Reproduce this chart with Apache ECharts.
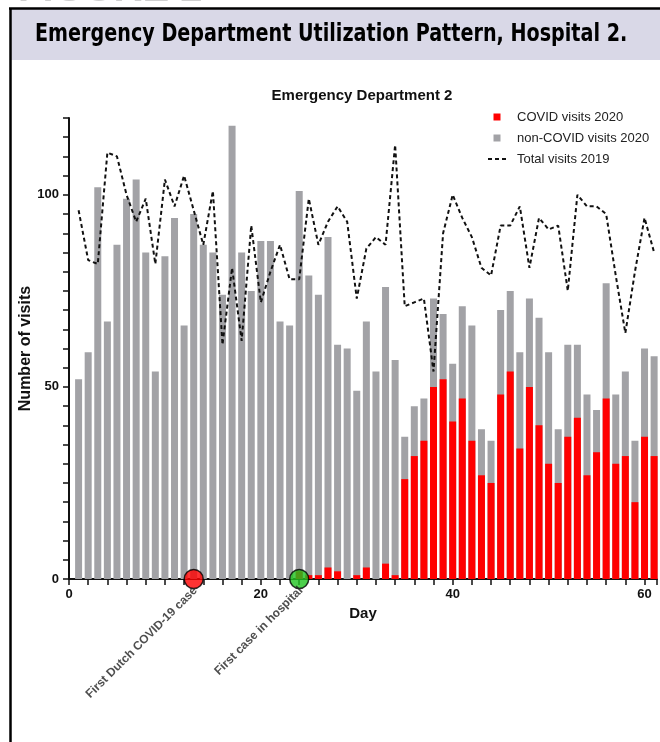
<!DOCTYPE html>
<html><head><meta charset="utf-8">
<script src="https://cdn.jsdelivr.net/npm/echarts@6/dist/echarts.min.js"></script>
<style>html,body{margin:0;padding:0;background:#fff}#c{width:660px;height:742px}</style>
</head><body><div id="c"></div>
<script>
// ---- data ----
const days = [1,2,3,4,5,6,7,8,9,10,11,12,13,14,15,16,17,18,19,20,21,22,23,24,25,26,27,28,29,30,31,32,33,34,35,36,37,38,39,40,41,42,43,44,45,46,47,48,49,50,51,52,53,54,55,56,57,58,59,60,61];
// COVID visits 2020 (red, bottom part of each bar)
const covid2020 = [0,0,0,0,0,0,0,0,0,0,0,0,0,0,0,0,0,0,0,0,0,0,0,2,1,1,3,2,0,1,3,0,4,1,26,32,36,50,52,41,47,36,27,25,48,54,34,50,40,30,25,37,42,27,33,47,30,32,20,37,32];
// top of each 2020 bar (COVID + non-COVID visits)
const allVisits2020 = [52,59,102,67,87,99,104,85,54,84,94,66,95,87,85,74,118,85,75,88,88,67,66,101,79,74,89,61,60,49,67,54,76,57,37,45,47,73,69,56,71,66,39,36,70,75,59,73,68,59,39,61,61,48,44,77,48,54,36,60,58];
const total2019 = [96,83,82,111,110,100,93,99,82,104,97,105,96,87,101,61,81,62,92,72,80,87,78,78,99,87,93,97,93,73,86,89,87,113,71,72,73,54,90,100,94,89,81,79,92,92,97,81,94,91,92,75,100,97,97,95,79,64,80,94,85];
const xTickLabels = [0,20,40,60];
const yTickLabels = [0,50,100];
const seriesNames = ['COVID visits 2020','non-COVID visits 2020','Total visits 2019'];
const eventDays = [13,24];
const eventLabels = ['First Dutch COVID-19 case','First case in hospital'];
const eventColors = ['#ff0000','#1fc31f'];

const FONT = '"Liberation Sans", Arial, sans-serif';
const chart = echarts.init(document.getElementById('c'), null, {renderer:'canvas'});

const pair = arr => arr.map((v,i)=>[days[i], v]);

chart.setOption({
  animation:false,
  backgroundColor:'#ffffff',
  graphic:[
    {type:'text', left:18, top:-30, style:{text:'FIGURE 2', font:'bold 40px "Liberation Sans", Arial', fill:'#cfcfcf'}, z:0},
    {type:'rect', shape:{x:11, y:9, width:660, height:51}, style:{fill:'#d9d8e7'}, z:0},
    {type:'line', shape:{x1:9, y1:8.5, x2:660, y2:8.5}, style:{stroke:'#000', lineWidth:2.5}, z:1},
    {type:'line', shape:{x1:10.5, y1:8, x2:10.5, y2:742}, style:{stroke:'#000', lineWidth:2.5}, z:1},
    {type:'text', x:35, y:34, scaleX:0.852, style:{text:'Emergency Department Utilization Pattern, Hospital 2.', font:'bold 25px "Liberation Sans Narrow", "DejaVu Sans Condensed", sans-serif', fill:'#000', textVerticalAlign:'middle'}, z:2}
  ],
  title:{
    text:'Emergency Department 2', left:357, top:83, textAlign:'center',
    textStyle:{fontFamily:FONT, fontWeight:'bold', fontSize:15, color:'#111'}
  },
  legend:{
    orient:'vertical', left:482, top:105, itemWidth:18, itemHeight:7, itemGap:7,
    textStyle:{fontFamily:FONT, fontSize:13, color:'#222', padding:[0,0,0,6], lineHeight:14},
    data:[
      {name:seriesNames[0], icon:'path://M0,0L1,0L1,1L0,1Z'},
      {name:seriesNames[1], icon:'path://M0,0L1,0L1,1L0,1Z'},
      {name:seriesNames[2], itemStyle:{opacity:0}}
    ]
  },
  grid:{left:69, top:118, width:590, height:461},
  xAxis:{
    type:'value', min:0, max:61.3, interval:2,
    name:'Day', nameLocation:'middle', nameGap:27,
    nameTextStyle:{fontFamily:FONT, fontWeight:'bold', fontSize:15, color:'#111'},
    axisLine:{show:true, lineStyle:{color:'#111', width:2}},
    axisTick:{show:true, length:6, lineStyle:{color:'#111', width:1.5}},
    axisLabel:{margin:9, fontFamily:FONT, fontWeight:'bold', fontSize:13, color:'#111',
      formatter:v => xTickLabels.indexOf(v) >= 0 ? String(v) : ''},
    splitLine:{show:false}
  },
  yAxis:{
    type:'value', min:0, max:120, interval:5,
    name:'Number of visits', nameLocation:'middle', nameGap:35, nameMoveOverlap:false,
    nameTextStyle:{fontFamily:FONT, fontWeight:'bold', fontSize:16, color:'#111'},
    axisLine:{show:true, lineStyle:{color:'#111', width:2}},
    axisTick:{show:true, length:6, lineStyle:{color:'#111', width:1.5}},
    axisLabel:{margin:10, fontFamily:FONT, fontWeight:'bold', fontSize:13, color:'#111',
      formatter:v => yTickLabels.indexOf(v) >= 0 ? String(v) : ''},
    splitLine:{show:false}
  },
  series:[
    {name:seriesNames[1], type:'bar', barWidth:7, barGap:'-100%', data:pair(allVisits2020),
      itemStyle:{color:'#a2a2a6'}, z:2},
    {name:seriesNames[0], type:'bar', barWidth:7, barGap:'-100%', data:pair(covid2020),
      itemStyle:{color:'#ff0000'}, z:3},
    {name:seriesNames[2], type:'line', data:pair(total2019), symbol:'none', smooth:false,
      lineStyle:{color:'#111', width:2, type:[4,3]}, itemStyle:{color:'#111'}, z:4},
    {name:'events', type:'scatter', clip:false, symbolSize:19, z:6,
      data:eventDays.map((d,i)=>({value:[d,0], itemStyle:{color:eventColors[i]},
        label:{formatter:eventLabels[i]}})),
      itemStyle:{borderColor:'#000', borderWidth:1.5},
      label:{show:true, position:[12,20], rotate:45, align:'right', verticalAlign:'middle',
        fontFamily:FONT, fontWeight:'bold', fontSize:12, color:'#222'}
    }
  ]
});
</script></body></html>
